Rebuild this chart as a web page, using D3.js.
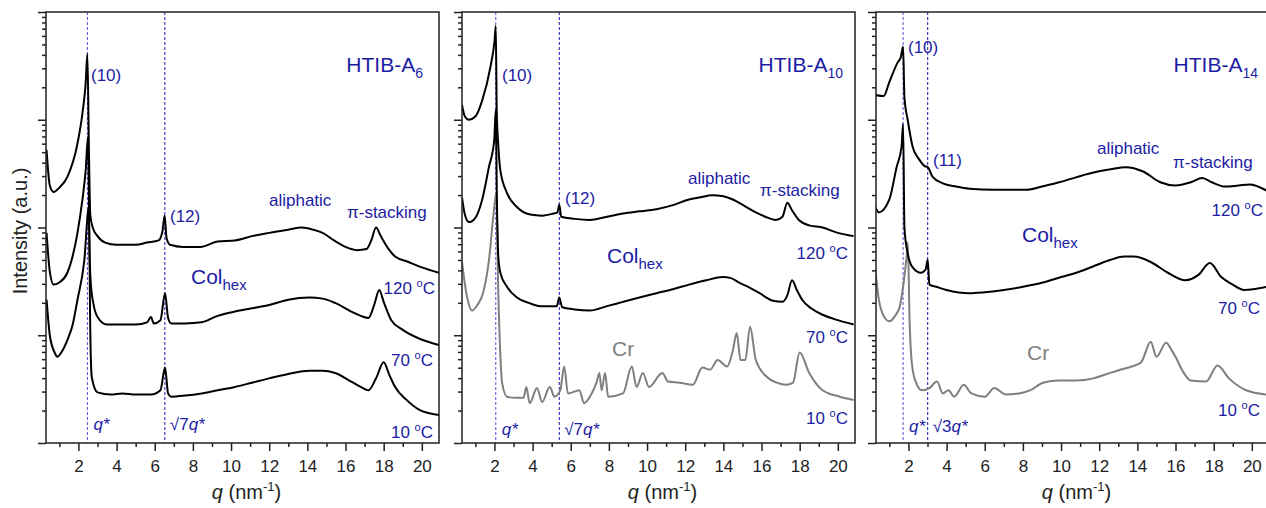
<!DOCTYPE html>
<html>
<head>
<meta charset="utf-8">
<script src="https://cdn.jsdelivr.net/npm/d3@7"></script>
<style>
  body { margin: 0; background: #fff; }
  svg { font-family: "Liberation Sans", Arial, sans-serif; }
</style>
</head>
<body>
<svg id="chart" width="1266" height="508"></svg>
<script>
// SAXS/WAXS profiles: [q (nm^-1), log10 intensity (a.u.)]
const a6_120 = [[0.33,2.72],[0.5,2.39],[0.7,2.33],[1.0,2.37],[1.42,2.47],[1.95,2.78],[2.21,3.06],[2.38,3.34],[2.47,3.61],
  [2.55,2.72],[2.62,2.12],[2.75,2.0],[3.0,1.92],[3.4,1.86],[4.0,1.84],[5.0,1.84],[5.6,1.86],[6.2,1.88],[6.4,1.96],[6.52,2.11],
  [6.62,1.9],[6.8,1.84],[7.5,1.82],[8.4,1.82],[9.3,1.87],[10.2,1.88],[11.1,1.92],[12.0,1.95],[13.0,1.98],[13.7,2.0],[14.3,1.98],
  [14.8,1.95],[15.4,1.88],[16.0,1.82],[16.6,1.79],[17.1,1.8],[17.35,1.88],[17.6,2.0],[17.85,1.92],[18.3,1.79],[18.6,1.73],
  [19.3,1.68],[20.0,1.63],[20.9,1.58]];
const a6_70 = [[0.33,1.95],[0.5,1.59],[0.7,1.47],[1.0,1.49],[1.42,1.58],[1.95,1.95],[2.21,2.26],[2.38,2.53],[2.5,2.84],
  [2.58,1.79],[2.65,1.48],[2.8,1.28],[3.0,1.17],[3.5,1.1],[4.3,1.1],[5.0,1.1],[5.6,1.12],[5.8,1.17],[5.95,1.11],[6.3,1.14],
  [6.54,1.39],[6.7,1.16],[6.86,1.11],[7.6,1.11],[8.45,1.12],[9.3,1.18],[10.2,1.22],[11.1,1.25],[12.0,1.28],[13.0,1.33],
  [14.1,1.35],[14.8,1.34],[15.45,1.3],[16.3,1.22],[16.8,1.18],[17.2,1.16],[17.5,1.28],[17.77,1.42],[18.0,1.31],[18.4,1.14],
  [19.0,1.05],[19.85,0.97],[20.9,0.91]];
const a6_10 = [[0.33,1.33],[0.5,1.0],[0.75,0.84],[0.9,0.8],[1.1,0.84],[1.43,0.96],[1.7,1.1],[1.95,1.33],[2.3,1.68],[2.55,2.19],
  [2.62,1.05],[2.7,0.61],[3.0,0.47],[3.7,0.45],[4.3,0.46],[5.0,0.45],[5.8,0.45],[6.3,0.49],[6.54,0.7],[6.7,0.46],[6.86,0.43],
  [7.6,0.44],[8.45,0.46],[9.3,0.49],[10.2,0.52],[11.1,0.56],[12.0,0.6],[13.0,0.64],[14.1,0.67],[14.8,0.67],[15.45,0.65],
  [16.3,0.57],[16.8,0.52],[17.2,0.49],[17.6,0.6],[18.0,0.75],[18.3,0.63],[18.6,0.52],[19.2,0.4],[19.85,0.31],[20.9,0.26]];

const a10_120 = [[0.3,3.14],[0.45,3.03],[0.66,3.0],[1.0,3.03],[1.36,3.18],[1.79,3.49],[2.01,3.74],[2.07,3.87],[2.12,3.09],
  [2.2,2.77],[2.31,2.53],[2.66,2.32],[3.18,2.19],[3.87,2.12],[4.5,2.11],[5.1,2.13],[5.3,2.14],[5.4,2.21],[5.5,2.1],[6.2,2.08],
  [7.0,2.07],[7.9,2.1],[8.74,2.13],[9.6,2.15],[10.5,2.17],[11.4,2.21],[12.2,2.26],[12.8,2.28],[13.4,2.3],[14.0,2.29],
  [14.5,2.26],[15.1,2.2],[15.7,2.14],[16.2,2.1],[16.75,2.07],[17.1,2.1],[17.35,2.23],[17.6,2.16],[17.96,2.07],[18.5,2.02],
  [19.2,2.0],[20.0,1.95],[20.83,1.92]];
const a10_70 = [[0.3,2.28],[0.45,2.12],[0.66,2.05],[1.0,2.09],[1.36,2.26],[1.71,2.56],[1.99,2.81],[2.07,3.09],[2.13,2.26],
  [2.2,1.74],[2.31,1.58],[2.66,1.45],[3.18,1.35],[3.8,1.3],[4.4,1.27],[5.27,1.27],[5.4,1.35],[5.55,1.26],[6.2,1.24],[7.0,1.23],
  [7.9,1.27],[8.74,1.31],[9.6,1.35],[10.5,1.39],[11.4,1.43],[12.2,1.47],[13.1,1.51],[13.96,1.54],[14.4,1.53],[14.8,1.49],
  [15.4,1.44],[15.9,1.39],[16.6,1.32],[17.1,1.31],[17.35,1.37],[17.6,1.51],[17.85,1.42],[18.13,1.33],[18.6,1.25],[19.2,1.19],
  [20.0,1.14],[20.83,1.1]];
const a10_10 = [[0.3,1.68],[0.5,1.42],[0.83,1.23],[1.1,1.28],[1.4,1.39],[1.73,1.72],[1.95,2.12],[2.1,2.32],[2.2,1.42],[2.3,0.86],
  [2.4,0.56],[2.66,0.43],[3.1,0.42],[3.53,0.42],[3.67,0.52],[3.85,0.37],[4.23,0.51],[4.5,0.38],[4.9,0.52],[5.15,0.43],[5.45,0.49],
  [5.66,0.71],[5.85,0.46],[6.45,0.49],[6.7,0.37],[7.1,0.46],[7.35,0.56],[7.5,0.65],[7.62,0.49],[7.8,0.65],[7.96,0.43],[8.74,0.46],
  [9.2,0.71],[9.45,0.52],[9.78,0.65],[10.1,0.52],[10.8,0.65],[11.1,0.57],[11.7,0.56],[12.4,0.54],[12.9,0.7],[13.3,0.68],
  [13.7,0.77],[14.2,0.71],[14.5,0.86],[14.7,1.02],[14.9,0.77],[15.15,0.77],[15.4,1.08],[15.7,0.77],[16.3,0.61],[16.8,0.56],
  [17.3,0.54],[17.65,0.56],[18.0,0.84],[18.5,0.65],[19.2,0.49],[20.1,0.43],[20.83,0.4]];

const a14_120 = [[0.26,3.23],[0.7,3.22],[1.0,3.35],[1.43,3.53],[1.6,3.58],[1.72,3.68],[1.79,3.21],[1.96,3.0],[2.22,2.75],
  [2.57,2.63],[2.85,2.57],[3.01,2.56],[3.27,2.47],[3.8,2.41],[4.5,2.38],[5.2,2.36],[6.5,2.35],[8.2,2.35],[9.0,2.38],[9.9,2.42],
  [11.7,2.51],[12.6,2.54],[13.4,2.56],[14.3,2.52],[15.2,2.42],[16.0,2.39],[16.8,2.42],[17.4,2.46],[17.9,2.42],[18.6,2.38],
  [19.3,2.39],[19.9,2.4],[20.8,2.34]];
const a14_70 = [[0.26,2.19],[0.45,2.14],[1.0,2.26],[1.38,2.56],[1.64,2.75],[1.72,2.96],[1.79,2.0],[1.96,1.76],[2.22,1.63],
  [2.66,1.58],[2.9,1.61],[3.01,1.7],[3.1,1.47],[3.45,1.45],[4.0,1.42],[5.2,1.39],[6.0,1.4],[7.0,1.42],[8.0,1.45],[9.05,1.49],
  [10.0,1.54],[10.8,1.58],[11.7,1.64],[12.6,1.7],[13.3,1.73],[13.8,1.73],[14.7,1.68],[15.6,1.58],[16.5,1.51],[17.2,1.56],
  [17.8,1.67],[18.4,1.54],[19.0,1.47],[19.6,1.42],[20.8,1.45]];
const a14_10 = [[0.26,1.62],[0.45,1.33],[0.7,1.18],[1.0,1.13],[1.3,1.18],[1.55,1.27],[1.75,1.49],[1.9,1.72],[1.97,1.86],
  [2.06,1.14],[2.2,0.71],[2.4,0.56],[2.7,0.49],[3.1,0.51],[3.5,0.57],[3.8,0.46],[4.1,0.49],[4.4,0.43],[4.9,0.54],[5.3,0.46],
  [6.0,0.43],[6.5,0.51],[7.1,0.45],[7.8,0.46],[8.4,0.49],[9.05,0.56],[9.9,0.58],[10.8,0.58],[11.7,0.6],[12.4,0.64],[13.1,0.68],
  [13.7,0.71],[14.2,0.75],[14.7,0.94],[15.0,0.8],[15.5,0.93],[15.8,0.86],[16.0,0.8],[16.4,0.66],[16.8,0.58],[17.6,0.57],
  [18.2,0.72],[18.8,0.6],[19.7,0.49],[20.8,0.45]];

// q* and the second reflection for each sample
const qStar = [2.47, 2.07, 1.72];
const qSecond = [6.53, 5.40, 3.01];

const xMajor = [2, 4, 6, 8, 10, 12, 14, 16, 18, 20];
const xMinor = [1, 3, 5, 7, 9, 11, 13, 15, 17, 19];
const yMajor = [1, 10, 100, 1000, 10000];

const blue = "#1c1ca4";
const grey = "#7f7f7f";

const plotTop = 12, plotH = 431, plotW = 393;
const svg = d3.select("#chart");

const yMinor = [];
for (let e = 0; e < 4; e++) for (let m = 2; m <= 9; m++) yMinor.push(m * 10 ** e);

const panels = [
  { left: 46, curves: [[a6_120, "#000"], [a6_70, "#000"], [a6_10, "#000"]],
    name: "6", nameX: 423, ten: [91, 81], second: ["(12)", 170, 222], secondMark: "√7",
    aliph: [269, 206], pi: [347, 218], col: [191, 284], cr: null,
    temps: [[435, 294], [433, 366], [433, 438]], star: 430 },
  { left: 462, curves: [[a10_120, "#000"], [a10_70, "#000"], [a10_10, grey]],
    name: "10", nameX: 843, ten: [502, 81], second: ["(12)", 565, 204], secondMark: "√7",
    aliph: [688, 184], pi: [760, 196], col: [607, 263], cr: [612, 356],
    temps: [[848, 259], [848, 343], [848, 424]], star: 435 },
  { left: 876, curves: [[a14_120, "#000"], [a14_70, "#000"], [a14_10, grey]],
    name: "14", nameX: 1258, ten: [908, 53], second: ["(11)", 933, 166], secondMark: "√3",
    aliph: [1097, 154], pi: [1173, 168], col: [1022, 242], cr: [1027, 360],
    temps: [[1263, 216], [1260, 314], [1260, 416]], star: 432 }
];

function rich(g, x, y, segs, o = {}) {
  const t = g.append("text").attr("x", x).attr("y", y)
    .attr("fill", o.fill || blue).attr("font-size", o.size || 17)
    .attr("text-anchor", o.anchor || "start");
  segs.forEach(s => {
    const sp = t.append("tspan").text(s[0]);
    if (s[1]) sp.attr("dy", s[1]);
    if (s[2]) sp.attr("font-size", s[2]);
    if (s[3]) sp.attr("font-style", "italic");
  });
  return t;
}

const tempText = ["120 ", "70 ", "10 "];

panels.forEach((p, i) => {
  const g = svg.append("g").attr("transform", `translate(${p.left},${plotTop})`);
  const x = d3.scaleLinear().domain([0.3, 20.9]).range([0, plotW]);
  const y = d3.scaleLog().domain([1, 10000]).range([plotH, 0]);

  // dashed reference lines
  [[qStar[i], "#5050d8"], [qSecond[i], "#1a1ab4"]].forEach(([q, c]) => {
    g.append("line").attr("x1", x(q)).attr("x2", x(q)).attr("y1", 0).attr("y2", plotH)
      .attr("stroke", c).attr("stroke-width", 1).attr("stroke-dasharray", "3,2");
  });

  // curves
  const line = d3.line().curve(d3.curveMonotoneX)
    .x(d => x(d[0])).y(d => y(10 ** d[1]));
  const clipId = "clip" + i;
  g.append("clipPath").attr("id", clipId).append("rect")
    .attr("width", plotW).attr("height", plotH);
  const cg = g.append("g").attr("clip-path", `url(#${clipId})`);
  p.curves.slice().reverse().forEach(([data, c]) => {
    cg.append("path").datum(data).attr("d", line)
      .attr("fill", "none").attr("stroke", c).attr("stroke-width", 2)
      .attr("stroke-linejoin", "round");
  });

  // axes
  const xa = g.append("g").attr("transform", `translate(0,${plotH})`)
    .call(d3.axisBottom(x).tickValues(xMajor).tickSize(8).tickPadding(9).tickFormat(d3.format("d")));
  g.append("g").attr("transform", `translate(0,${plotH})`)
    .call(d3.axisBottom(x).tickValues(xMinor).tickSize(4).tickFormat(""));
  g.append("g").call(d3.axisLeft(y).tickValues(yMajor).tickSize(8).tickFormat(""));
  g.append("g").call(d3.axisLeft(y).tickValues(yMinor).tickSize(4).tickFormat(""));
  g.selectAll(".domain").remove();
  g.selectAll(".tick line").attr("stroke", "#222").attr("stroke-width", 1.5);
  xa.selectAll("text").attr("font-size", 17).attr("fill", "#222")
    .attr("font-family", "Liberation Sans, Arial, sans-serif");

  g.append("rect").attr("width", plotW).attr("height", plotH)
    .attr("fill", "none").attr("stroke", "#222").attr("stroke-width", 1.5);

  // axis title
  const xt = svg.append("text").attr("x", p.left + plotW / 2 + 4).attr("y", 499)
    .attr("text-anchor", "middle").attr("font-size", 20).attr("fill", "#222");
  xt.append("tspan").attr("font-style", "italic").text("q");
  xt.append("tspan").text(" (nm");
  xt.append("tspan").attr("dy", -8).attr("font-size", 13).text("-1");
  xt.append("tspan").attr("dy", 8).text(")");

  // annotations
  rich(svg, p.nameX, 72, [["HTIB-A"], [p.name, 6, 14]], { size: 21, anchor: "end" });
  rich(svg, p.ten[0], p.ten[1], [["(10)"]]);
  rich(svg, p.second[1], p.second[2], [[p.second[0]]]);
  rich(svg, p.aliph[0], p.aliph[1], [["aliphatic"]]);
  rich(svg, p.pi[0], p.pi[1], [["π-stacking"]]);
  rich(svg, p.col[0], p.col[1], [["Col"], ["hex", 6, 15]], { size: 21 });
  if (p.cr) rich(svg, p.cr[0], p.cr[1], [["Cr"]], { size: 21, fill: grey });
  p.temps.forEach((t, k) => {
    rich(svg, t[0], t[1], [[tempText[k]], ["o", -7, 11], ["C", 7]], { anchor: "end" });
  });
  const sx = p.left + x(qStar[i]) + 6;
  rich(svg, sx, p.star, [["q*", 0, 0, true]]);
  const sx2 = p.left + x(qSecond[i]) + 5;
  rich(svg, sx2, p.star, [[p.secondMark], ["q*", 0, 0, true]]);
});

svg.append("text").attr("transform", "translate(27,231) rotate(-90)")
  .attr("text-anchor", "middle").attr("font-size", 20).attr("fill", "#222")
  .text("Intensity (a.u.)");
</script>
</body>
</html>
